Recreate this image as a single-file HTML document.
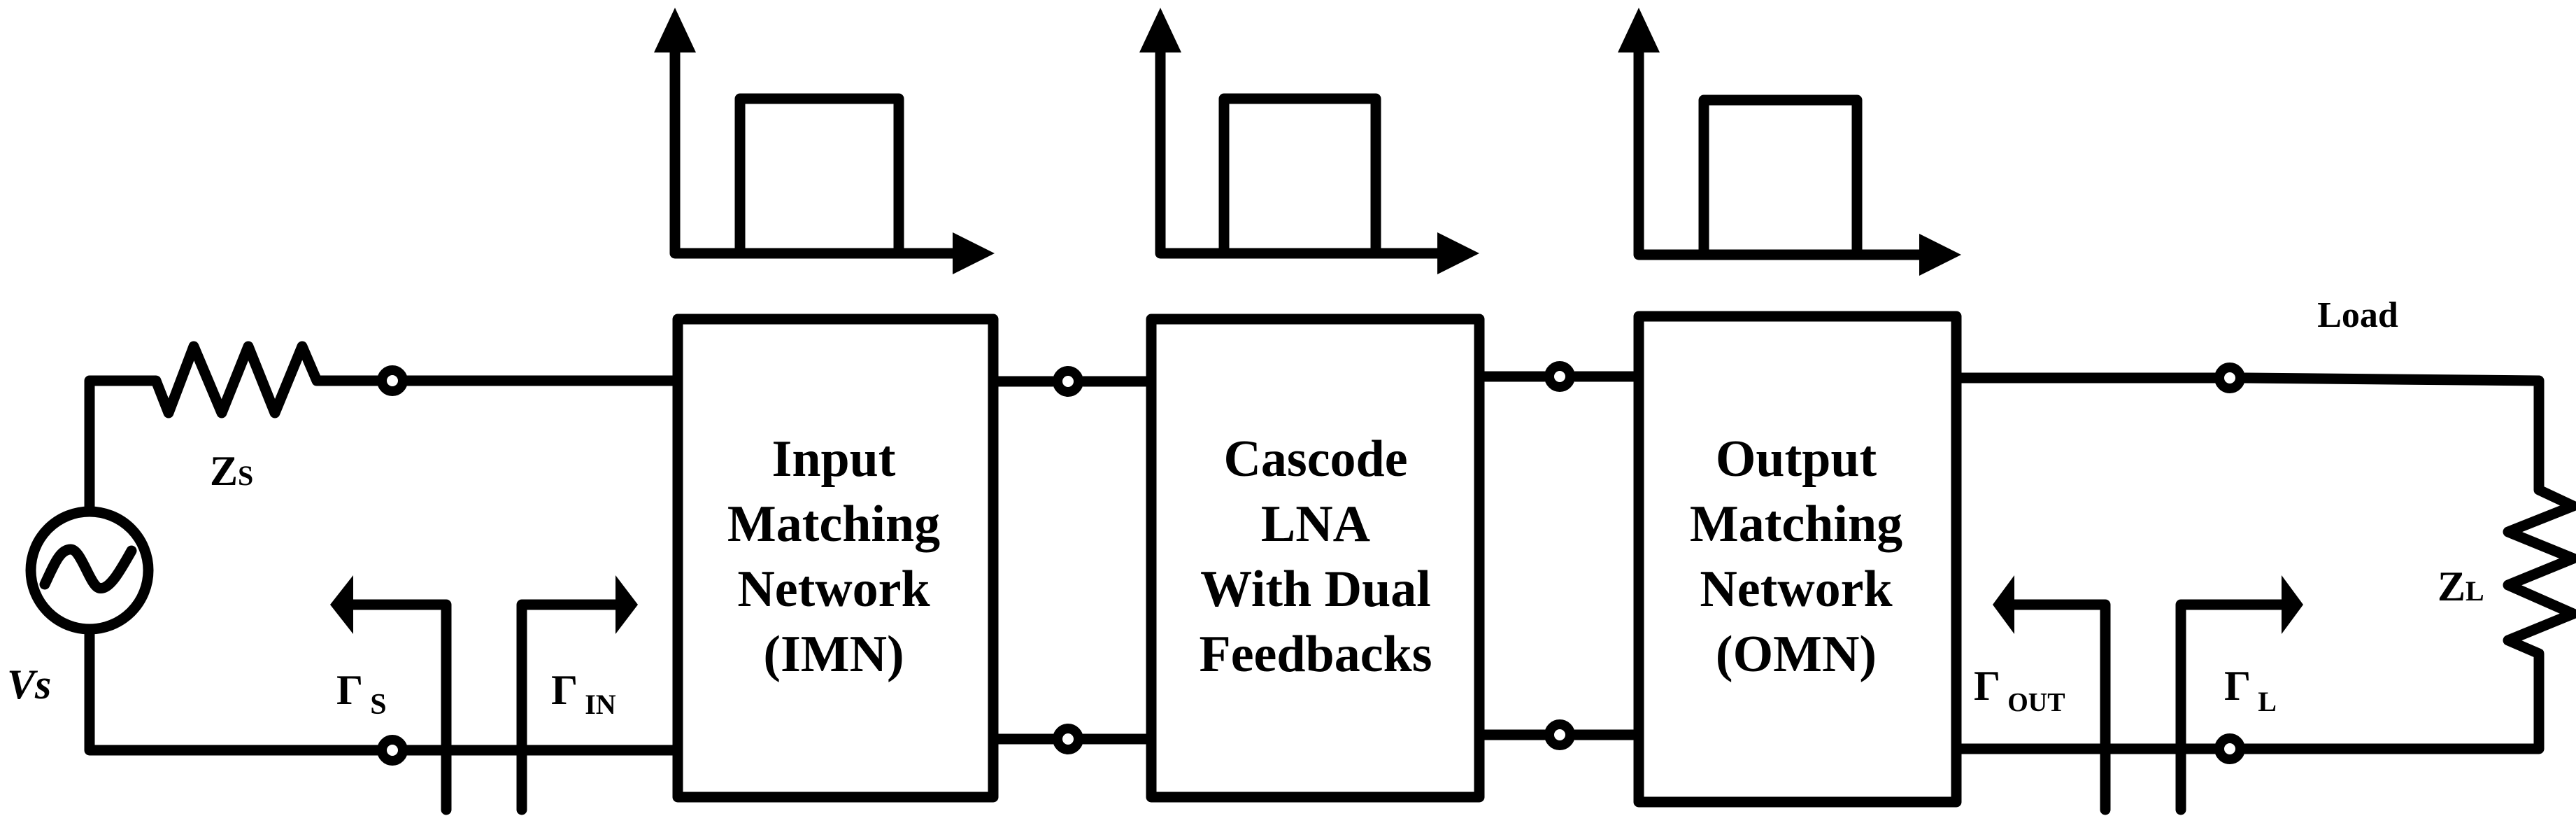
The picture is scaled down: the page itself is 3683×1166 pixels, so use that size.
<!DOCTYPE html>
<html><head><meta charset="utf-8"><style>
html,body{margin:0;padding:0;background:#fff;}
svg{display:block;}
text{font-family:"Liberation Serif",serif;font-weight:bold;fill:#000;}
</style></head><body>
<svg width="3683" height="1166" viewBox="0 0 3683 1166" xmlns="http://www.w3.org/2000/svg">
<g fill="none" stroke="#000" stroke-width="15" stroke-linejoin="round" stroke-linecap="round">
<polyline points="128,731 128,544 223,544 241,590 277,495 317,590 355,495 393,590 432,495 453,544 540,544"/>
<line x1="582" y1="544" x2="969" y2="544"/>
<polyline points="128,899 128,1072 540,1072"/>
<line x1="582" y1="1072" x2="969" y2="1072"/>
<circle cx="128" cy="815" r="84"/>
<path d="M64,835 C78,805 86,785 101,785 C116,785 128,835 141,840 C156,845 172,815 188,787"/>
<circle cx="561" cy="544" r="15" stroke-width="14"/>
<circle cx="561" cy="1072" r="15" stroke-width="14"/>
<polyline points="505,864 638,864 638,1157"/>
<polyline points="746,1157 746,864 880,864"/>
<rect x="969" y="456" width="451" height="683"/>
<rect x="1646" y="456" width="469" height="683"/>
<rect x="2343" y="452" width="454" height="694"/>
<line x1="1420" y1="545" x2="1505" y2="545"/><line x1="1549" y1="545" x2="1646" y2="545"/>
<line x1="1420" y1="1056" x2="1505" y2="1056"/><line x1="1549" y1="1056" x2="1646" y2="1056"/>
<circle cx="1527" cy="545" r="15" stroke-width="14"/>
<circle cx="1527" cy="1056" r="15" stroke-width="14"/>
<line x1="2115" y1="538" x2="2208" y2="538"/><line x1="2252" y1="538" x2="2343" y2="538"/>
<line x1="2115" y1="1050" x2="2208" y2="1050"/><line x1="2252" y1="1050" x2="2343" y2="1050"/>
<circle cx="2230" cy="538" r="15" stroke-width="14"/>
<circle cx="2230" cy="1050" r="15" stroke-width="14"/>
<polyline points="2797,540 3166,540"/>
<polyline points="3210,540 3630,544 3630,700 3679,723 3586,760 3679,798 3586,836 3679,877 3586,915 3630,934 3630,1070 3210,1070"/>
<line x1="2797" y1="1070" x2="3166" y2="1070"/>
<circle cx="3188" cy="540" r="15" stroke-width="14"/>
<circle cx="3188" cy="1070" r="15" stroke-width="14"/>
<polyline points="2880,864 3010,864 3010,1157"/>
<polyline points="3118,1157 3118,864 3262,864"/>
<polyline points="965,40 965,362 1390,362"/>
<polyline points="1058,362 1058,141 1285,141 1285,362"/>
<polyline points="1659,40 1659,362 2085,362"/>
<polyline points="1750,362 1750,141 1967,141 1967,362"/>
<polyline points="2343,40 2343,364 2775,364"/>
<polyline points="2436,364 2436,143 2655,143 2655,364"/>
</g>
<g fill="#000">
<polygon points="472,864 505,822 505,906"/>
<polygon points="912,864 880,822 880,906"/>
<polygon points="2849,864 2880,822 2880,906"/>
<polygon points="3293,864 3262,822 3262,906"/>
<polygon points="965,11 935,75 995,75"/>
<polygon points="1422,362 1362,332 1362,392"/>
<polygon points="1659,11 1629,75 1689,75"/>
<polygon points="2115,362 2055,332 2055,392"/>
<polygon points="2343,11 2313,75 2373,75"/>
<polygon points="2804,364 2744,334 2744,394"/>
</g>
<g font-size="74" text-anchor="middle">
<text x="1192" y="680">Input</text><text x="1192" y="773">Matching</text><text x="1192" y="866">Network</text><text x="1192" y="959">(IMN)</text>
<text x="1881" y="680">Cascode</text><text x="1881" y="773">LNA</text><text x="1881" y="866">With Dual</text><text x="1881" y="959">Feedbacks</text>
<text x="2568" y="680">Output</text><text x="2568" y="773">Matching</text><text x="2568" y="866">Network</text><text x="2568" y="959">(OMN)</text>
</g>
<text x="3371" y="467" font-size="52" text-anchor="middle">Load</text>
<text x="300" y="693" font-size="60">Z<tspan font-size="40">S</tspan></text>
<text x="3485" y="858" font-size="60">Z<tspan font-size="40">L</tspan></text>
<text x="10" y="998" font-size="60" font-style="italic">Vs</text>
<text x="481" y="1006" font-size="60">Γ<tspan font-size="42" dx="10" dy="14">S</tspan></text>
<text x="788" y="1006" font-size="60">Γ<tspan font-size="40" dx="10" dy="14">IN</tspan></text>
<text x="2822" y="1000" font-size="60">Γ<tspan font-size="38" dx="10" dy="16">OUT</tspan></text>
<text x="3180" y="1000" font-size="60">Γ<tspan font-size="40" dx="10" dy="16">L</tspan></text>
</svg>
</body></html>
